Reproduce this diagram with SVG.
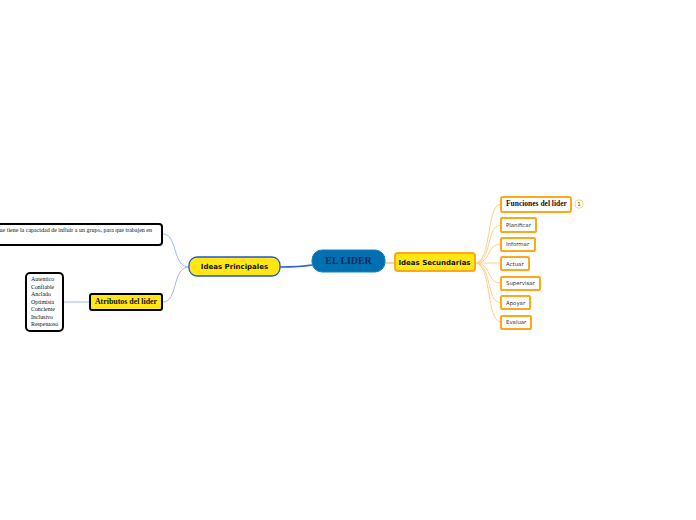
<svg xmlns="http://www.w3.org/2000/svg" width="696" height="520" viewBox="0 0 696 520">
<style>
.n{stroke-width:2}
.y{fill:#ffe614}
.w{fill:#fff}
.b{stroke:#000}
.o{stroke:#ffa619}
.s{font-family:"DejaVu Sans",Verdana,sans-serif;font-size:5.400px;fill:#333}
.m{font-family:"DejaVu Sans",Verdana,sans-serif;font-size:7px;font-weight:bold;fill:#111}
.t{font-family:"Liberation Serif",serif;fill:#111}
.c{fill:none;stroke-width:1}
</style>
<rect width="696" height="520" fill="#fff"/>
<g id="connectors">
<path class="c" d="M280 267Q300 267 312 265" stroke="#2b5fe8" style="stroke-width:1.500"/>
<path class="c" d="M385 263H394" stroke="#ffa619"/>
<path class="c" d="M189 267C172 267 178 234 163 234" stroke="#9db8f5"/>
<path class="c" d="M189 267C172 267 178 302 163 302" stroke="#9db8f5"/>
<path class="c" d="M90 302H64" stroke="#9db8f5"/>
<g stroke="#ffd08a">
<path class="c" d="M475 263C492 263 486 204 501 204"/>
<path class="c" d="M475 263C492 263 486 225 501 225"/>
<path class="c" d="M475 263C492 263 486 244 501 244"/>
<path class="c" d="M475 263H501"/>
<path class="c" d="M475 263C492 263 486 283 501 283"/>
<path class="c" d="M475 263C492 263 486 303 501 303"/>
<path class="c" d="M475 263C492 263 486 322 501 322"/>
</g>
</g>
<g id="root"><rect x="312" y="250" width="73" height="22" rx="10" fill="#0070b0" stroke="#1580c0"/><text class="t" x="348.500" y="264" text-anchor="middle" font-size="9.900" font-weight="bold" style="fill:#0b2a5c">EL LIDER</text></g>
<g id="principales"><rect class="y" x="189" y="257" width="91" height="19" rx="8" stroke="#1f56d8" stroke-width="1.300"/><text class="m" x="234.500" y="269" text-anchor="middle">Ideas Principales</text></g>
<g id="secundarias"><rect class="n y o" x="395" y="253" width="80" height="18" rx="3"/><text class="m" x="434.500" y="265" text-anchor="middle">Ideas Secundarias</text></g>
<g id="definicion"><rect class="n w b" x="-40" y="224" width="202" height="21" rx="3"/><text class="t" x="152" y="232" text-anchor="end" font-size="6">ue tiene la capacidad de influir a un grupo, para que trabajen en</text></g>
<g id="atributos"><rect class="n y b" x="90" y="294" width="72" height="16" rx="2"/><text class="t" x="126" y="304" text-anchor="middle" font-size="7.900" font-weight="bold">Atributos del lider</text></g>
<g id="lista"><rect class="n w b" x="26" y="273" width="37" height="58" rx="4"/>
<text class="t" font-size="5.900"><tspan x="31" y="281">Autentico</tspan><tspan x="31" y="289">Confiable</tspan><tspan x="31" y="296">Anclado</tspan><tspan x="31" y="304">Optimista</tspan><tspan x="31" y="311">Conciente</tspan><tspan x="31" y="319">Inclusivo</tspan><tspan x="31" y="326">Respetuoso</tspan></text></g>
<g id="funciones"><rect class="n w o" x="501" y="197" width="70" height="15" rx="2"/><text class="t" x="506" y="206" font-size="7.500" font-weight="bold">Funciones del lider</text></g>
<g id="badge"><rect x="575" y="200" width="8" height="8" rx="3" fill="#fff" stroke="#ffd08a"/><text class="s" x="579" y="206" text-anchor="middle">1</text></g>
<g id="planificar"><rect class="n w o" x="501" y="218" width="35" height="14" rx="1"/><text class="s" x="506" y="227">Planificar</text></g>
<g id="informar"><rect class="n w o" x="501" y="238" width="34" height="13" rx="1"/><text class="s" x="506" y="246">Informar</text></g>
<g id="actuar"><rect class="n w o" x="501" y="257" width="28" height="13" rx="1"/><text class="s" x="506" y="266">Actuar</text></g>
<g id="supervisar"><rect class="n w o" x="501" y="277" width="39" height="13" rx="1"/><text class="s" x="506" y="285">Supervisar</text></g>
<g id="apoyar"><rect class="n w o" x="501" y="296" width="29" height="13" rx="1"/><text class="s" x="506" y="305">Apoyar</text></g>
<g id="evaluar"><rect class="n w o" x="501" y="316" width="30" height="13" rx="1"/><text class="s" x="506" y="324">Evaluar</text></g>
</svg>
